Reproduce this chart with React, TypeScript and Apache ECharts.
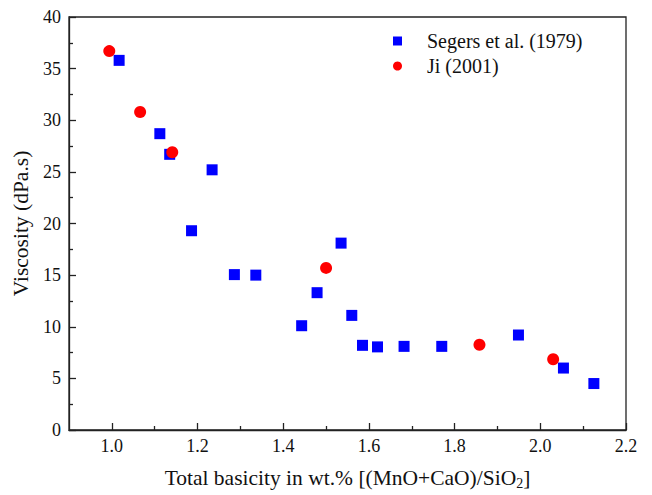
import React, { useEffect, useRef } from "react";
import * as echarts from "echarts";

// Total basicity (x) and viscosity in dPa.s (y) for each data source
const segersBasicity = [1.017, 1.112, 1.135, 1.186, 1.234, 1.286, 1.336, 1.443, 1.479, 1.535, 1.56, 1.585, 1.62, 1.682, 1.77, 1.949, 2.054, 2.125];
const segersViscosity = [35.8, 28.7, 26.7, 19.3, 25.2, 15.05, 15.0, 10.1, 13.3, 18.1, 11.1, 8.2, 8.05, 8.1, 8.1, 9.2, 6.0, 4.5];

const jiBasicity = [0.994, 1.066, 1.141, 1.5, 1.858, 2.03];
const jiViscosity = [36.7, 30.8, 26.9, 15.7, 8.25, 6.85];

const xMajorTicks = [1.0, 1.2, 1.4, 1.6, 1.8, 2.0, 2.2];
const xMinorTicks = [1.1, 1.3, 1.5, 1.7, 1.9, 2.1];

const FONT = "Liberation Serif";
const AXIS_COLOR = "#222";
const TEXT_COLOR = "#111";

function pairs(xs: number[], ys: number[]) {
  return xs.map((x, i) => [x, ys[i]]);
}

export default function App() {
  const ref = useRef<HTMLDivElement>(null);

  useEffect(() => {
    if (!ref.current) return;
    const chart = echarts.init(ref.current, undefined, { renderer: "svg" });
    const baseX = {
      type: "value" as const,
      min: 0.9,
      max: 2.2,
      position: "bottom" as const,
      splitLine: { show: false },
    };
    chart.setOption({
      animation: false,
      backgroundColor: "#fff",
      textStyle: { fontFamily: FONT, color: TEXT_COLOR },
      grid: {
        left: 69,
        right: 26,
        top: 17,
        bottom: 63,
        show: true,
        borderColor: AXIS_COLOR,
        borderWidth: 1.3,
        backgroundColor: "transparent",
      },
      legend: {
        orient: "vertical",
        left: 388,
        top: 26,
        itemWidth: 9,
        itemHeight: 9,
        itemGap: 5,
        textStyle: {
          fontFamily: FONT,
          fontSize: 20,
          color: TEXT_COLOR,
          padding: [0, 0, 0, 20],
        },
        data: [
          { name: "Segers et al. (1979)", icon: "rect" },
          { name: "Ji (2001)", icon: "circle" },
        ],
      },
      xAxis: [
        {
          ...baseX,
          name: "{t|Total basicity in wt.% [(MnO+CaO)/SiO}{sub|2}{t|]}",
          nameLocation: "middle",
          nameGap: 36,
          nameTextStyle: {
            fontFamily: FONT,
            fontSize: 21,
            color: TEXT_COLOR,
            rich: {
              t: { fontFamily: FONT, fontSize: 21.5, color: TEXT_COLOR },
              sub: { fontFamily: FONT, fontSize: 14, color: TEXT_COLOR, padding: [10, 0, 0, 0] },
            },
          },
          axisLine: { show: true, lineStyle: { color: AXIS_COLOR, width: 1.3 } },
          axisTick: {
            show: true,
            inside: true,
            length: 7,
            customValues: xMajorTicks,
            lineStyle: { color: AXIS_COLOR, width: 1.3 },
          },
          axisLabel: {
            customValues: xMajorTicks,
            formatter: (v: number) => v.toFixed(1),
            fontFamily: FONT,
            fontSize: 18,
            color: TEXT_COLOR,
            margin: 7,
          },
        },
        {
          ...baseX,
          axisLine: { show: false },
          axisTick: {
            show: true,
            inside: true,
            length: 4,
            customValues: xMinorTicks,
            lineStyle: { color: AXIS_COLOR, width: 1.3 },
          },
          axisLabel: { show: false },
        },
      ],
      yAxis: {
        type: "value",
        min: 0,
        max: 40,
        interval: 5,
        name: "Viscosity (dPa.s)",
        nameLocation: "middle",
        nameGap: 28,
        nameTextStyle: { fontFamily: FONT, fontSize: 21.5, color: TEXT_COLOR },
        splitLine: { show: false },
        axisLine: { show: true, lineStyle: { color: AXIS_COLOR, width: 1.3 } },
        axisTick: { show: true, inside: true, length: 7, lineStyle: { color: AXIS_COLOR, width: 1.3 } },
        minorTick: { show: true, splitNumber: 2, length: 4, lineStyle: { color: AXIS_COLOR, width: 1.3 } },
        axisLabel: { fontFamily: FONT, fontSize: 18, color: TEXT_COLOR, margin: 8 },
      },
      series: [
        {
          name: "Segers et al. (1979)",
          type: "scatter",
          xAxisIndex: 0,
          symbol: "rect",
          symbolSize: 11,
          itemStyle: { color: "#0000ff", opacity: 1 },
          data: pairs(segersBasicity, segersViscosity),
        },
        {
          name: "Ji (2001)",
          type: "scatter",
          xAxisIndex: 0,
          symbol: "circle",
          symbolSize: 12,
          itemStyle: { color: "#ff0000", opacity: 1 },
          data: pairs(jiBasicity, jiViscosity),
        },
      ],
    });
    return () => chart.dispose();
  }, []);

  return (
    <div
      ref={ref}
      style={{ position: "fixed", left: 0, top: 0, width: 652, height: 495, background: "#fff" }}
    />
  );
}
